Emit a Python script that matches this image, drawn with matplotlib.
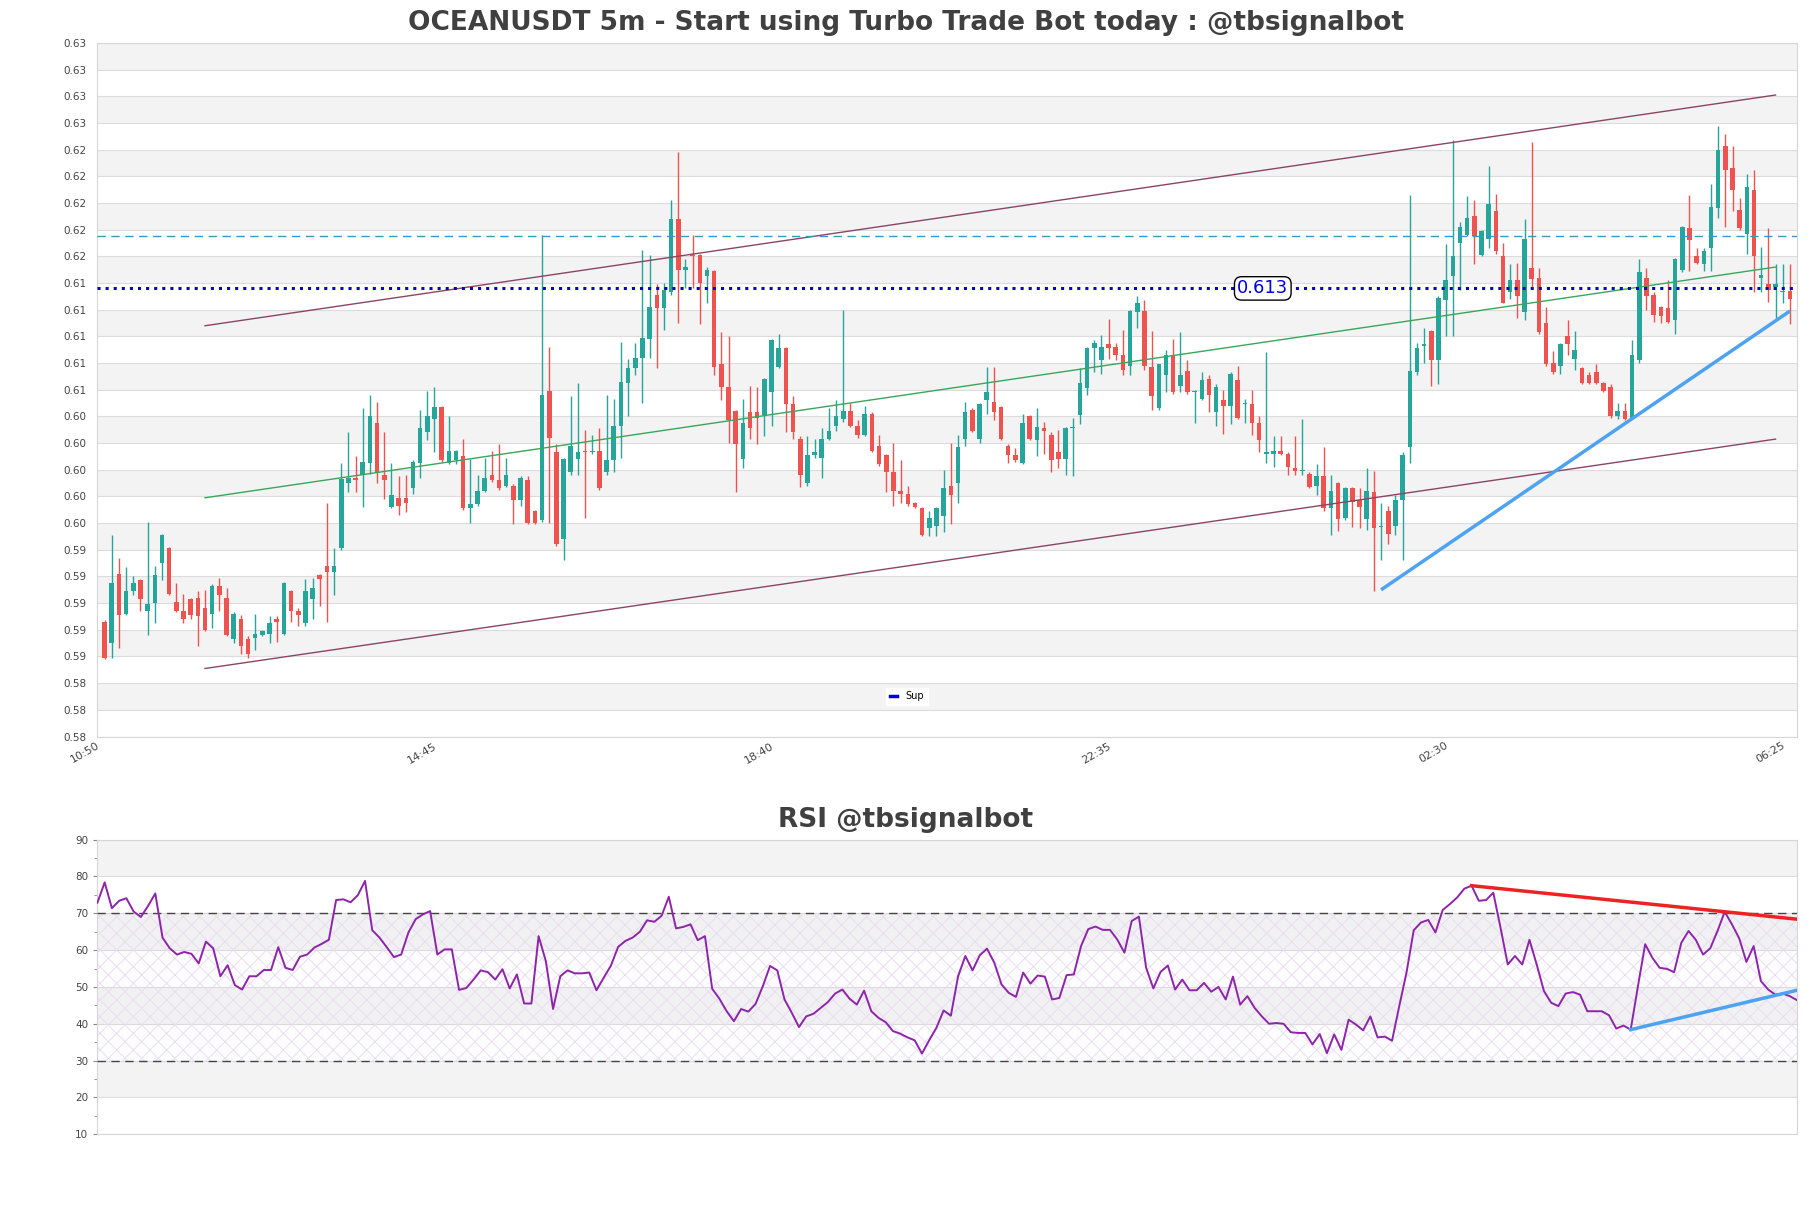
import matplotlib
matplotlib.use("Agg")
import matplotlib.pyplot as plt
import numpy as np
from matplotlib.lines import Line2D
from matplotlib.ticker import MultipleLocator
from matplotlib.transforms import ScaledTranslation

title = "OCEANUSDT 5m - Start using Turbo Trade Bot today : @tbsignalbot"
rsi_title = "RSI @tbsignalbot"
time_labels = ["10:50", "14:45", "18:40", "22:35", "02:30", "06:25"]
time_label_idx = [0, 47, 94, 141, 188, 235]

# 5m candles, oldest first
opens = [
    .5886, .5870, .5922, .5892, .5909, .5917, .5894, .5900, .5930, .5941,
    .5901, .5894, .5903, .5904, .5896, .5892, .5913, .5904, .5873, .5888,
    .5873, .5874, .5876, .5877, .5888, .5877, .5909, .5894, .5885, .5903,
    .5921, .5928, .5923, .5941, .5990, .5994, .5996, .6005, .6035, .5996,
    .5972, .5979, .5979, .5986, .6005, .6028, .6038, .6047, .6005, .6007,
    .6010, .5971, .5974, .5984, .5996, .5992, .5988, .5988, .5977, .5992,
    .5969, .5962, .6059, .6013, .5948, .5998, .6008, .6014, .6013, .6014,
    .5998, .6007, .6033, .6065, .6076, .6084, .6098, .6131, .6121, .6133,
    .6188, .6150, .6161, .6161, .6145, .6149, .6079, .6062, .6044, .6008,
    .6043, .6043, .6041, .6058, .6077, .6091, .6049, .6023, .5990, .6011,
    .6009, .6023, .6033, .6038, .6044, .6033, .6026, .6042, .6018, .6011,
    .5998, .5984, .5982, .5975, .5971, .5956, .5958, .5965, .5988, .5990,
    .6023, .6045, .6023, .6052, .6051, .6047, .6018, .6011, .6005, .6040,
    .6022, .6031, .6026, .6013, .6008, .6031, .6041, .6061, .6091, .6082,
    .6094, .6092, .6086, .6078, .6118, .6119, .6077, .6046, .6071, .6086,
    .6063, .6074, .6058, .6053, .6068, .6043, .6052, .6048, .6067, .6049,
    .6049, .6035, .6012, .6012, .6014, .6012, .6001, .5999, .5997, .5988,
    .5995, .5971, .5990, .5964, .5986, .5977, .5963, .5983, .5957, .5969,
    .5958, .5977, .6017, .6073, .6093, .6104, .6082, .6127, .6145, .6170,
    .6176, .6190, .6161, .6173, .6194, .6160, .6133, .6142, .6118, .6151,
    .6144, .6110, .6080, .6078, .6100, .6083, .6076, .6071, .6073, .6065,
    .6062, .6040, .6044, .6039, .6082, .6144, .6131, .6122, .6121, .6112,
    .6150, .6181, .6160, .6154, .6166, .6196, .6243, .6226, .6195, .6177,
    .6210, .6144, .6139, .6137, .6133, .6134,
]
highs = [
    .5887, .5951, .5934, .5927, .5920, .5918, .5961, .5928, .5952, .5942,
    .5915, .5907, .5904, .5909, .5910, .5914, .5919, .5911, .5893, .5891,
    .5875, .5892, .5880, .5890, .5890, .5916, .5910, .5896, .5918, .5919,
    .5922, .5975, .5941, .6005, .6028, .6010, .6046, .6056, .6051, .6028,
    .6005, .5995, .5996, .6007, .6045, .6059, .6062, .6048, .6040, .6015,
    .6023, .6008, .5996, .6009, .6014, .6019, .6009, .5989, .5995, .5995,
    .5970, .6176, .6092, .6019, .6009, .6055, .6065, .6030, .6026, .6031,
    .6056, .6053, .6096, .6083, .6095, .6165, .6161, .6139, .6140, .6202,
    .6238, .6158, .6176, .6162, .6152, .6150, .6103, .6100, .6045, .6053,
    .6063, .6062, .6069, .6098, .6102, .6092, .6055, .6025, .6025, .6023,
    .6031, .6046, .6052, .6120, .6050, .6037, .6048, .6043, .6026, .6012,
    .6020, .6007, .5988, .5976, .5972, .5969, .5972, .6000, .6020, .6026,
    .6051, .6046, .6050, .6077, .6077, .6048, .6019, .6016, .6042, .6041,
    .6046, .6036, .6028, .6030, .6032, .6039, .6076, .6092, .6097, .6101,
    .6113, .6095, .6105, .6120, .6130, .6127, .6104, .6079, .6090, .6098,
    .6103, .6082, .6060, .6073, .6071, .6064, .6060, .6073, .6078, .6053,
    .6060, .6040, .6088, .6025, .6025, .6013, .6025, .6038, .5998, .6004,
    .6017, .5996, .5991, .5987, .5987, .5986, .6001, .5999, .5975, .5973,
    .5981, .6013, .6206, .6095, .6106, .6105, .6130, .6169, .6247, .6186,
    .6205, .6202, .6180, .6228, .6207, .6170, .6154, .6155, .6188, .6246,
    .6151, .6122, .6089, .6095, .6112, .6104, .6077, .6073, .6079, .6066,
    .6064, .6050, .6050, .6097, .6158, .6151, .6133, .6123, .6142, .6159,
    .6183, .6206, .6166, .6166, .6214, .6258, .6252, .6243, .6204, .6222,
    .6225, .6167, .6181, .6154, .6154, .6154,
]
lows = [
    .5858, .5859, .5866, .5891, .5906, .5894, .5876, .5885, .5917, .5906,
    .5893, .5885, .5888, .5868, .5879, .5881, .5894, .5875, .5870, .5862,
    .5859, .5865, .5875, .5870, .5871, .5876, .5886, .5883, .5883, .5888,
    .5898, .5886, .5906, .5940, .5983, .5983, .5972, .5997, .5990, .5978,
    .5971, .5966, .5968, .5982, .5994, .6022, .6013, .6006, .6004, .6004,
    .5970, .5960, .5973, .5983, .5991, .5985, .5987, .5959, .5973, .5959,
    .5959, .5961, .5960, .5943, .5932, .5996, .5996, .5964, .6012, .5985,
    .5996, .5998, .6009, .6040, .6071, .6050, .6084, .6076, .6105, .6131,
    .6110, .6136, .6136, .6109, .6125, .6071, .6052, .6020, .5983, .6001,
    .6023, .6019, .6025, .6033, .6076, .6028, .6023, .5987, .5988, .6009,
    .5994, .6022, .6029, .6036, .6032, .6024, .6025, .6013, .6003, .5983,
    .5973, .5975, .5973, .5971, .5950, .5950, .5950, .5953, .5959, .5975,
    .6018, .6028, .6020, .6042, .6037, .6022, .6005, .6006, .6004, .6022,
    .6010, .6012, .5998, .6001, .5996, .5995, .6034, .6056, .6073, .6072,
    .6083, .6082, .6071, .6071, .6106, .6075, .6045, .6045, .6058, .6057,
    .6058, .6057, .6035, .6052, .6043, .6033, .6027, .6034, .6038, .6035,
    .6026, .6013, .6005, .6002, .6011, .5996, .5996, .5996, .5986, .5981,
    .5969, .5951, .5954, .5962, .5957, .5956, .5955, .5909, .5932, .5944,
    .5951, .5932, .6005, .6071, .6080, .6063, .6064, .6100, .6100, .6135,
    .6175, .6154, .6160, .6166, .6162, .6125, .6128, .6114, .6112, .6137,
    .6102, .6078, .6072, .6072, .6086, .6075, .6064, .6064, .6064, .6058,
    .6039, .6038, .6037, .6038, .6080, .6120, .6111, .6110, .6110, .6102,
    .6148, .6149, .6154, .6149, .6149, .6189, .6182, .6194, .6180, .6162,
    .6133, .6133, .6126, .6113, .6125, .6109,
]
closes = [
    .5859, .5915, .5891, .5909, .5915, .5903, .5899, .5921, .5951, .5907,
    .5894, .5888, .5891, .5890, .5880, .5913, .5906, .5876, .5892, .5868,
    .5862, .5877, .5879, .5885, .5886, .5915, .5894, .5891, .5909, .5911,
    .5918, .5923, .5928, .5993, .5994, .5992, .6006, .6040, .5998, .5992,
    .5981, .5973, .5975, .6006, .6031, .6040, .6047, .6007, .6014, .6014,
    .5971, .5974, .5984, .5994, .5992, .5986, .5996, .5977, .5994, .5960,
    .5960, .6056, .6024, .5944, .6008, .6018, .6013, .6013, .6014, .5986,
    .6007, .6033, .6066, .6076, .6084, .6099, .6122, .6121, .6135, .6188,
    .6150, .6152, .6160, .6140, .6150, .6077, .6062, .6037, .6019, .6035,
    .6031, .6039, .6068, .6097, .6091, .6049, .6028, .5996, .6011, .6013,
    .6023, .6029, .6040, .6044, .6033, .6026, .6042, .6014, .6004, .5998,
    .5984, .5982, .5974, .5972, .5951, .5964, .5971, .5986, .5981, .6017,
    .6043, .6029, .6049, .6058, .6043, .6023, .6011, .6007, .6035, .6023,
    .6032, .6029, .6007, .6008, .6031, .6032, .6065, .6091, .6095, .6092,
    .6091, .6086, .6075, .6119, .6125, .6078, .6055, .6079, .6086, .6058,
    .6071, .6058, .6059, .6067, .6056, .6062, .6048, .6072, .6039, .6050,
    .6035, .6022, .6013, .6014, .6012, .6002, .5999, .6000, .5987, .5995,
    .5971, .5984, .5963, .5986, .5976, .5972, .5984, .5956, .5958, .5952,
    .5977, .6011, .6074, .6091, .6094, .6082, .6129, .6142, .6160, .6182,
    .6189, .6175, .6179, .6199, .6164, .6125, .6142, .6130, .6173, .6143,
    .6103, .6079, .6073, .6094, .6094, .6090, .6065, .6065, .6065, .6059,
    .6040, .6044, .6038, .6086, .6148, .6130, .6116, .6115, .6111, .6158,
    .6182, .6172, .6155, .6164, .6197, .6240, .6225, .6210, .6181, .6212,
    .6160, .6146, .6135, .6139, .6134, .6128,
]

rsi = [
    72.9, 78.4, 71.4, 73.4, 74.1, 70.5, 69.0, 72.0, 75.4, 63.4,
    60.5, 58.8, 59.5, 59.0, 56.4, 62.3, 60.5, 52.9, 55.9, 50.5,
    49.3, 52.9, 52.9, 54.6, 54.6, 60.8, 55.2, 54.6, 58.2, 58.8,
    60.7, 61.7, 62.8, 73.6, 73.8, 73.0, 74.9, 78.8, 65.4, 63.4,
    60.8, 58.1, 58.8, 64.8, 68.4, 69.7, 70.6, 58.8, 60.2, 60.2,
    49.2, 49.7, 52.0, 54.5, 54.0, 52.0, 54.8, 49.6, 53.4, 45.5,
    45.5, 63.8, 57.0, 44.0, 52.9, 54.5, 53.7, 53.7, 53.9, 49.1,
    52.5, 55.8, 60.9, 62.5, 63.4, 65.0, 68.1, 67.7, 69.3, 74.5,
    65.9, 66.3, 67.0, 62.7, 63.8, 49.5, 46.8, 43.4, 40.7, 44.0,
    43.3, 45.4, 50.2, 55.7, 54.5, 46.6, 43.0, 39.1, 42.0, 42.7,
    44.3, 45.9, 48.2, 49.3, 46.8, 45.2, 49.0, 43.4, 41.6, 40.4,
    38.0, 37.3, 36.3, 35.5, 31.9, 35.5, 38.9, 43.6, 42.2, 52.9,
    58.4, 54.5, 58.6, 60.4, 56.6, 50.7, 48.4, 47.3, 53.9, 50.9,
    53.1, 52.8, 46.6, 47.0, 53.2, 53.4, 61.1, 65.7, 66.4, 65.5,
    65.5, 62.9, 59.3, 67.9, 69.1, 55.2, 49.6, 54.1, 55.8, 49.3,
    52.0, 49.1, 49.1, 51.1, 48.7, 50.0, 46.6, 52.8, 45.2, 47.5,
    44.3, 42.0, 40.0, 40.2, 40.0, 37.7, 37.5, 37.5, 34.4, 37.2,
    32.0, 37.1, 32.9, 41.1, 39.8, 38.2, 42.0, 36.3, 36.5, 35.4,
    44.8, 53.9, 65.4, 67.5, 68.2, 64.8, 70.9, 72.5, 74.3, 76.7,
    77.5, 73.4, 73.6, 75.6, 66.1, 56.1, 58.4, 56.1, 62.8, 56.1,
    48.9, 45.7, 44.8, 48.2, 48.6, 47.9, 43.4, 43.4, 43.4, 42.3,
    38.7, 39.5, 38.4, 50.2, 61.6, 57.9, 55.2, 54.9, 54.0, 62.0,
    65.2, 62.8, 58.8, 60.5, 65.2, 70.4, 67.0, 63.2, 56.8, 61.1,
    51.6, 49.3, 47.9, 48.2, 47.5, 46.4,
]

# drawn levels and trend lines
sup_level = 0.6136
sup_label = "0.613"
res_level = 0.6175
chan_x = [14, 233]
chan_upper = [0.6108, 0.6281]
chan_mid = [0.5979, 0.6152]
chan_lower = [0.5851, 0.6023]
trend_x = [178, 235]
trend_y = [0.5910, 0.6119]
rsi_res_x = [190, 235]
rsi_res_y = [77.5, 68.4]
rsi_sup_x = [212, 235]
rsi_sup_y = [38.4, 49.1]

UP = "#26a69a"
DOWN = "#ef5350"
BAND = "#f3f3f3"
GRID = "#dcdcdc"
TXT = "#444444"

plt.rcParams["hatch.linewidth"] = 0.6

# -----------------------------------------------------------------------------|
def style_axes(ax):
    for s in ax.spines.values():
        s.set_color("#d6d6d6")
    ax.tick_params(colors="#888888", labelcolor=TXT, labelsize=7.5, length=3)
    ax.set_axisbelow(True)


def main():
    fig = plt.figure(figsize=(18.11, 12.08), dpi=100)
    ax = fig.add_axes([0.0538, 0.3903, 0.9385, 0.5741])
    ax2 = fig.add_axes([0.0538, 0.0611, 0.9385, 0.2438])

    x = np.arange(len(closes))
    o = np.array(opens)
    c = np.array(closes)
    h = np.array(highs)
    l = np.array(lows)

    # price panel
    y0, step = 0.58, 0.002
    yt = y0 + step * np.arange(27)
    for k in range(26):
        if k % 2 == 1:
            ax.axhspan(yt[k], yt[k + 1], color=BAND, lw=0, zorder=0)
    ax.set_yticks(yt)
    ax.set_yticklabels(["{:.2f}".format(v) for v in yt])
    ax.yaxis.grid(True, color=GRID, lw=0.8)
    ax.set_ylim(yt[0], yt[-1])
    ax.set_xlim(-1, 236)

    colors = np.where(c >= o, UP, DOWN)
    ax.vlines(x, l, h, colors=colors, lw=1.0, zorder=3)
    body = np.maximum(np.abs(c - o), 0.00005)
    ax.bar(x, body, bottom=np.minimum(o, c), width=0.64, color=colors,
           lw=0, zorder=4)

    ax.plot(chan_x, chan_upper, color="#8b4563", lw=1.0, zorder=5)
    ax.plot(chan_x, chan_lower, color="#8b4563", lw=1.0, zorder=5)
    ax.plot(chan_x, chan_mid, color="#3aa65a", lw=1.0, zorder=5)
    ax.axhline(res_level, color="#3399cc", lw=1.0, ls=(0, (6, 4)), zorder=5)
    ax.axhline(sup_level, color="#0000cc", lw=2.2, ls=":", zorder=5)
    ax.plot(trend_x, trend_y, color="#4da3f0", lw=2.5, zorder=6,
            solid_capstyle="butt")
    ax.text(161.5, sup_level, sup_label, color="#0000dd", fontsize=13,
            ha="center", va="center", zorder=7,
            bbox=dict(boxstyle="round,pad=0.15,rounding_size=0.4",
                      fc="white", ec="black", lw=1))

    ax.set_xticks(time_label_idx)
    ax.set_xticklabels(time_labels, rotation=30, ha="right",
                       rotation_mode="anchor")
    style_axes(ax)
    ax.tick_params(axis="y", length=0, pad=8)
    ax.tick_params(axis="x", length=0, pad=3, labelsize=8)
    shift = ScaledTranslation(-6 / 72, 0, fig.dpi_scale_trans)
    for lbl in ax.get_xticklabels():
        lbl.set_transform(lbl.get_transform() + shift)

    leg = ax.legend(handles=[Line2D([], [], color="#0000cc", lw=2.5)],
                    labels=["Sup"], loc="center", fontsize=7,
                    bbox_to_anchor=(0.5007, 0.4235),
                    bbox_transform=fig.transFigure, handlelength=0.8,
                    fancybox=False, framealpha=1)
    leg.get_frame().set_edgecolor("white")

    # RSI panel
    xr = np.arange(len(rsi))
    for k in range(8):
        if k % 2 == 1:
            ax2.axhspan(10 + 10 * k, 20 + 10 * k, color=BAND, lw=0, zorder=0)
    ax2.fill_between(xr, 30, 70, color="#9c27b0", alpha=0.012, lw=0,
                     zorder=0.6)
    ax2.fill_between(xr, 30, 70, facecolor="none", edgecolor="#e6dded",
                     hatch="xx", lw=0, zorder=0.7)
    ax2.set_yticks(np.arange(10, 91, 10))
    ax2.yaxis.set_minor_locator(MultipleLocator(5))
    ax2.yaxis.grid(True, color=GRID, lw=0.8)
    ax2.axhline(70, color="#444444", lw=1.0, ls=(0, (6, 4)), zorder=3)
    ax2.axhline(30, color="#444444", lw=1.0, ls=(0, (6, 4)), zorder=3)
    ax2.plot(xr, rsi, color="#8e24aa", lw=1.4, zorder=4)
    ax2.plot(rsi_res_x, rsi_res_y, color="#ee2222", lw=2.5, zorder=5)
    ax2.plot(rsi_sup_x, rsi_sup_y, color="#4da3f0", lw=2.5, zorder=5)
    ax2.set_ylim(10, 90)
    ax2.set_xlim(0, len(rsi) - 1)
    ax2.set_xticks([])
    style_axes(ax2)
    ax2.tick_params(axis="y", which="minor", length=2, colors="#888888")

    fig.text(0.5, 0.981, title, ha="center", va="center", fontsize=19,
             fontweight="bold", color="#404040")
    fig.text(0.5, 0.321, rsi_title, ha="center", va="center", fontsize=19,
             fontweight="bold", color="#404040")

    fig.savefig("out.png", dpi=100)
# -----------------------------------------------------------------------------|


if __name__ == '__main__':
    main()
